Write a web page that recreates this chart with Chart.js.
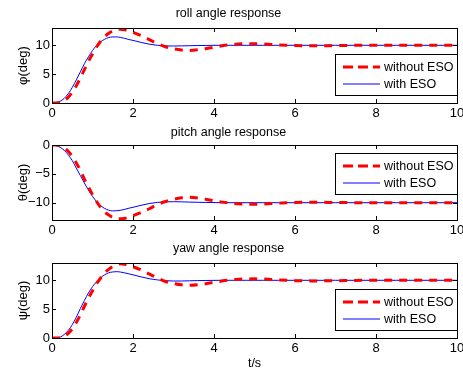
<!DOCTYPE html>
<html><head><meta charset="utf-8">
<script src="https://cdn.jsdelivr.net/npm/chart.js@4.4.1/dist/chart.umd.min.js"></script>
<style>
html,body{margin:0;padding:0;background:#fff;}
#wrap{position:relative;width:463px;height:371px;overflow:hidden;background:#fff;}
canvas{position:absolute;left:0;}
</style></head><body>
<div id="wrap">
<canvas id="c1" width="463" height="120" style="top:0px"></canvas>
<canvas id="c2" width="463" height="120" style="top:120px"></canvas>
<canvas id="c3" width="463" height="131" style="top:240px"></canvas>
</div>
<script>
// ---- data ----
const t = [0,0.1,0.2,0.3,0.4,0.5,0.6,0.7,0.8,0.9,1.0,1.1,1.2,1.3,1.4,1.5,1.6,1.7,1.8,1.9,2.0,
  2.2,2.4,2.6,2.8,3.0,3.2,3.4,3.6,3.8,4.0,4.2,4.4,4.6,4.8,5.0,5.2,5.4,5.6,5.8,6.0,
  6.5,7.0,7.5,8.0,8.5,9.0,9.5,10];

const rollWithout = [0,0,0.1,0.4,1.0,1.9,3.0,4.3,5.8,7.2,8.5,9.7,10.7,11.5,12.1,12.5,12.75,12.8,12.7,12.5,12.25,
  11.7,11.0,10.3,9.75,9.4,9.18,9.12,9.22,9.42,9.68,9.92,10.1,10.22,10.28,10.28,10.23,10.15,10.07,10.0,9.95,
  9.92,9.96,10.0,10.02,10.01,10.0,10.0,10.0];
const rollWith = [0,0.05,0.3,0.8,1.6,2.7,4.0,5.4,6.8,8.0,9.1,9.95,10.6,11.05,11.35,11.45,11.45,11.35,11.2,11.0,10.85,
  10.5,10.2,10.0,9.9,9.88,9.9,9.93,9.96,9.98,10.0,10.0,10.0,10.0,10.0,10.0,10.0,10.0,10.0,10.0,10.0,
  10,10,10,10,10,10,10,10];

const pitchWithout = [0,-0.02,-0.15,-0.5,-1.1,-2.0,-3.1,-4.4,-5.9,-7.3,-8.6,-9.8,-10.8,-11.6,-12.15,-12.55,-12.8,-12.8,-12.7,-12.5,-12.25,
  -11.7,-11.05,-10.35,-9.8,-9.4,-9.15,-9.07,-9.18,-9.42,-9.68,-9.9,-10.05,-10.2,-10.27,-10.27,-10.22,-10.15,-10.08,-10.0,-9.96,
  -9.93,-9.96,-10.0,-10.02,-10.01,-10.0,-10.0,-10.0];
const pitchWith = [0,-0.1,-0.4,-0.9,-1.7,-2.7,-4.0,-5.3,-6.6,-7.8,-8.9,-9.8,-10.5,-11.0,-11.3,-11.42,-11.4,-11.3,-11.15,-10.95,-10.8,
  -10.45,-10.15,-9.95,-9.85,-9.83,-9.85,-9.9,-9.93,-9.96,-9.98,-10,-10,-10,-10,-10,-10,-10,-10,-10,-10,
  -10,-10,-10,-10,-10,-10,-10,-10];

const yawWithout = [0,0,0.05,0.3,0.8,1.6,2.7,4.0,5.5,6.9,8.2,9.4,10.4,11.3,11.9,12.4,12.7,12.85,12.8,12.6,12.35,
  11.8,11.1,10.4,9.8,9.45,9.22,9.13,9.22,9.42,9.65,9.88,10.05,10.18,10.23,10.25,10.22,10.15,10.07,10.0,9.94,
  9.9,9.93,9.98,10.0,10.01,10.0,10.0,10.0];
const yawWith = [0,0,0.15,0.6,1.3,2.3,3.6,5.1,6.5,7.8,8.9,9.75,10.45,10.95,11.3,11.45,11.5,11.42,11.28,11.12,10.95,
  10.6,10.28,10.07,9.93,9.88,9.88,9.92,9.95,9.97,9.99,10,10,10,10,10,10,10,10,10,10,
  10,10,10,10,10,10,10,10];

const xTicks = [0,2,4,6,8,10];
const xRange = [0,10];
const rollTicks = [0,5,10];
const pitchTicks = [0,-5,-10];
const yawTicks = [0,5,10];
const rollRange = [0,13];
const pitchRange = [-13,0];
const yawRange = [0,13];
const seriesLabels = ['without ESO','with ESO'];
const titles = ['roll angle response','pitch angle response','yaw angle response'];
const yLabels = ['\u03C6(deg)','\u03B8(deg)','\u03C8(deg)'];
const xLabel = 't/s';

// ---- rendering ----
const FONT = "'Liberation Sans', Arial, Helvetica, sans-serif";
Chart.defaults.color = '#000';
Chart.defaults.font.family = FONT;

const framePlugin = {
  id: 'frame',
  afterDatasetsDraw(chart) {
    const {ctx, chartArea: a, scales: {x, y}} = chart;
    ctx.save();
    ctx.strokeStyle = '#000';
    ctx.lineWidth = 1;
    ctx.beginPath();
    const L = 4;
    x.ticks.forEach(tk => {
      const px = Math.round(x.getPixelForValue(tk.value)) + 0.5;
      ctx.moveTo(px, a.bottom); ctx.lineTo(px, a.bottom - L);
      ctx.moveTo(px, a.top); ctx.lineTo(px, a.top + L);
    });
    y.ticks.forEach(tk => {
      const py = Math.round(y.getPixelForValue(tk.value)) + 0.5;
      ctx.moveTo(a.left, py); ctx.lineTo(a.left + L, py);
      ctx.moveTo(a.right, py); ctx.lineTo(a.right - L, py);
    });
    ctx.stroke();
    ctx.strokeRect(Math.round(a.left) + 0.5, Math.round(a.top) + 0.5,
                   Math.round(a.right - a.left), Math.round(a.bottom - a.top));
    ctx.restore();
  }
};

const legendPlugin = {
  id: 'boxLegend',
  afterDraw(chart, args, opts) {
    const {ctx, chartArea: a} = chart;
    const w = 122, h = 41, off = 8;
    const top = Math.round(opts.pos === 'top' ? a.top + off : a.bottom - off - h);
    const left = Math.round(a.right - w);
    ctx.save();
    ctx.fillStyle = '#fff';
    ctx.fillRect(left, top, w, h);
    ctx.strokeStyle = '#000';
    ctx.lineWidth = 1;
    ctx.strokeRect(left + 0.5, top + 0.5, w, h);
    ctx.font = "12.5px " + FONT;
    ctx.textBaseline = 'middle';
    ctx.textAlign = 'left';
    chart.data.datasets.forEach((ds, i) => {
      const yy = top + 13 + i * 17;
      ctx.beginPath();
      ctx.strokeStyle = ds.borderColor;
      ctx.lineWidth = ds.borderWidth;
      ctx.setLineDash(ds.borderDash && ds.borderDash.length ? [10, 5] : []);
      ctx.moveTo(left + 8, yy);
      ctx.lineTo(left + 45, yy);
      ctx.stroke();
      ctx.setLineDash([]);
      ctx.fillStyle = '#000';
      ctx.fillText(ds.label, left + 49, yy + 0.5);
    });
    ctx.restore();
  }
};

const fmt = v => (v < 0 ? '\u2212' + Math.abs(v) : String(v));

function makeChart(id, idx, yTicks, yRange, redData, blueData, legendPos, titlePad, xAxisH, showXTitle) {
  const toXY = arr => t.map((x, i) => ({x: x, y: arr[i]}));
  return new Chart(document.getElementById(id), {
    type: 'line',
    data: {
      datasets: [
        {label: seriesLabels[0], data: toXY(redData), borderColor: '#ff0000', borderWidth: 3,
         borderDash: [8, 7], pointRadius: 0, cubicInterpolationMode: 'monotone', fill: false},
        {label: seriesLabels[1], data: toXY(blueData), borderColor: '#0000ff', borderWidth: 1,
         pointRadius: 0, cubicInterpolationMode: 'monotone', fill: false}
      ]
    },
    options: {
      responsive: false,
      animation: false,
      devicePixelRatio: 1,
      layout: {padding: {left: 0, right: 6, top: 0, bottom: 0}},
      plugins: {
        legend: {display: false},
        tooltip: {enabled: false},
        title: {display: true, text: titles[idx], font: {size: 12.5, weight: 'normal', family: FONT},
                color: '#000', padding: titlePad},
        boxLegend: {pos: legendPos}
      },
      scales: {
        x: {
          type: 'linear', min: xRange[0], max: xRange[1],
          grid: {display: false, drawTicks: false}, border: {display: false},
          ticks: {padding: 3, autoSkip: false, maxRotation: 0, font: {size: 13, family: FONT}, color: '#000', callback: fmt},
          afterBuildTicks: s => { s.ticks = xTicks.map(v => ({value: v})); },
          afterFit: s => { s.height = xAxisH; s.paddingLeft = 0; s.paddingRight = 0; },
          title: {display: showXTitle, text: xLabel, font: {size: 12.5, family: FONT}, color: '#000', padding: {top: 0, bottom: 0}}
        },
        y: {
          type: 'linear', min: yRange[0], max: yRange[1],
          grid: {display: false, drawTicks: false}, border: {display: false},
          ticks: {padding: 2, autoSkip: false, font: {size: 13, family: FONT}, color: '#000', callback: fmt},
          afterBuildTicks: s => { s.ticks = yTicks.map(v => ({value: v})); },
          afterFit: s => { s.width = 52; },
          title: {display: true, text: yLabels[idx], font: {size: 13, family: FONT}, color: '#000', padding: {top: 15.7, bottom: 0}}
        }
      }
    },
    plugins: [framePlugin, legendPlugin]
  });
}

makeChart('c1', 0, rollTicks, rollRange, rollWithout, rollWith, 'bottom', {top: 6.5, bottom: 6.5}, 17, false);
makeChart('c2', 1, pitchTicks, pitchRange, pitchWithout, pitchWith, 'top', {top: 5, bottom: 5}, 20, false);
makeChart('c3', 2, yawTicks, yawRange, yawWithout, yawWith, 'bottom', {top: 1, bottom: 7}, 33, true);
</script>
</body></html>
